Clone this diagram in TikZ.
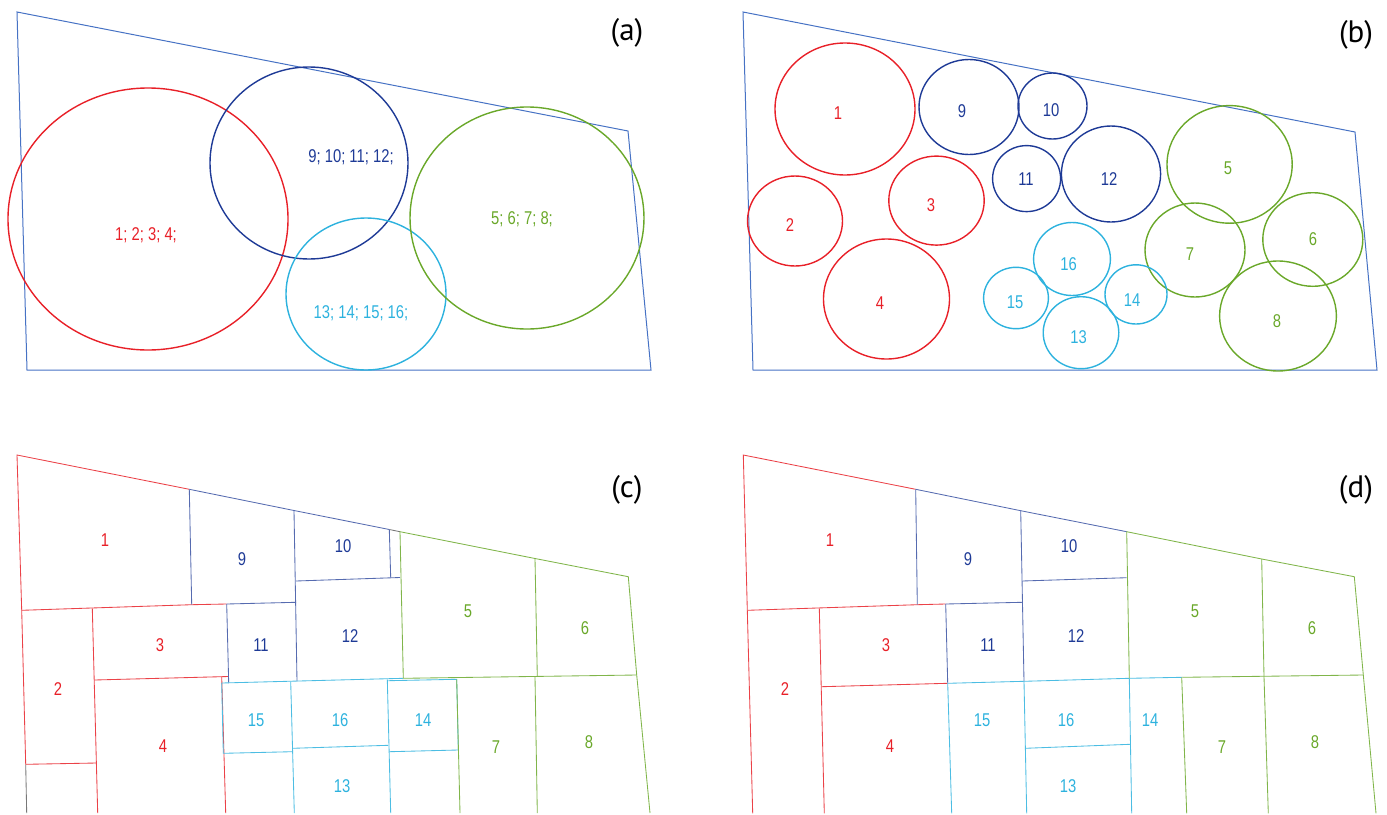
\documentclass[tikz,border=0pt]{standalone}
\usepackage{fontspec}
\newfontfamily\lbl[FakeStretch=0.8]{Liberation Sans}
\newfontfamily\ptl{PT Sans}
\definecolor{cred}{RGB}{232,32,40}
\definecolor{cblue}{RGB}{30,58,150}
\definecolor{ccyan}{RGB}{45,178,222}
\definecolor{cgreen}{RGB}{106,168,42}
\definecolor{outl}{RGB}{70,114,196}
\definecolor{cgray}{RGB}{120,120,120}
\colorlet{lred}{cred!85!white}
\colorlet{lblue}{cblue!75!white}
\colorlet{lcyan}{ccyan!85!white}
\colorlet{lgreen}{cgreen!85!white}
\tikzset{
  outline/.style={draw=outl, line width=1pt, line join=miter},
  ring/.style={line width=1.4pt},
  part/.style={line width=0.85pt},
  lab/.style={font=\lbl\fontsize{18.5}{20}\selectfont, inner sep=0pt},
  ptitle/.style={font=\ptl\fontsize{31}{34}\selectfont, inner sep=0pt}
}
\begin{document}
\begin{tikzpicture}[x=1pt,y=-1pt]
\useasboundingbox (0,0) rectangle (1387,814);

%================ (a) =================
\draw[outline] (17,12) -- (628,131) -- (651,370) -- (27,370) -- cycle;
\draw[ring, cred]   (148,219) ellipse [x radius=140, y radius=131];
\draw[ring, cblue]  (309,163) ellipse [x radius=99, y radius=96];
\draw[ring, ccyan]  (366,294) ellipse [x radius=80, y radius=76];
\draw[ring, cgreen] (527,218) ellipse [x radius=117, y radius=111];
\node[lab, text=cred]   (aR) at (146,235) {1; 2; 3; 4;};
\node[lab, text=cblue]  (aB) at (351,157) {9; 10; 11; 12;};
\node[lab, text=ccyan]  (aC) at (361,313) {13; 14; 15; 16;};
\node[lab, text=cgreen] (aG) at (522,219) {5; 6; 7; 8;};
\node[ptitle] (ta) at (627,33) {(a)};

%================ (b) =================
\draw[outline] (743,12) -- (1355,132) -- (1377,370) -- (753,370) -- cycle;
\draw[ring, cred] (845,109) ellipse [x radius=70, y radius=66];
\draw[ring, cred] (795,221) ellipse [x radius=47.5, y radius=45];
\draw[ring, cred] (936.5,200.6) ellipse [x radius=47.7, y radius=44.5];
\draw[ring, cred] (886.5,299) ellipse [x radius=63, y radius=60];
\draw[ring, cblue] (969,107) ellipse [x radius=50, y radius=47.5];
\draw[ring, cblue] (1052.5,106) ellipse [x radius=34.5, y radius=33];
\draw[ring, cblue] (1026.6,178.6) ellipse [x radius=34, y radius=33];
\draw[ring, cblue] (1111,174) ellipse [x radius=49.6, y radius=48];
\draw[ring, cgreen] (1229.6,164.4) ellipse [x radius=62.6, y radius=58.8];
\draw[ring, cgreen] (1312.8,239.5) ellipse [x radius=50, y radius=46.8];
\draw[ring, cgreen] (1195,250) ellipse [x radius=50, y radius=47];
\draw[ring, cgreen] (1278,316) ellipse [x radius=58.4, y radius=55];
\draw[ring, ccyan] (1072,259) ellipse [x radius=38.4, y radius=36.5];
\draw[ring, ccyan] (1016,298) ellipse [x radius=32.4, y radius=30.7];
\draw[ring, ccyan] (1136,294.4) ellipse [x radius=31, y radius=29.6];
\draw[ring, ccyan] (1081,332.7) ellipse [x radius=37.8, y radius=36];
\node[lab, text=cred] (b1) at (838,113) {1};
\node[lab, text=cred] (b2) at (790,225) {2};
\node[lab, text=cred] (b3) at (931,205) {3};
\node[lab, text=cred] (b4) at (880,303) {4};
\node[lab, text=cblue] (b9) at (962,111) {9};
\node[lab, text=cblue] (b10) at (1051,110.5) {10};
\node[lab, text=cblue] (b11) at (1026,179.5) {11};
\node[lab, text=cblue] (b12) at (1109,179.5) {12};
\node[lab, text=cgreen] (b5) at (1228,168.5) {5};
\node[lab, text=cgreen] (b6) at (1313,239) {6};
\node[lab, text=cgreen] (b7) at (1190,254) {7};
\node[lab, text=cgreen] (b8) at (1277,321.5) {8};
\node[lab, text=ccyan] (b16) at (1068.5,264) {16};
\node[lab, text=ccyan] (b15) at (1015,302) {15};
\node[lab, text=ccyan] (b14) at (1132,300.5) {14};
\node[lab, text=ccyan] (b13) at (1078.5,337) {13};
\node[ptitle] (tb) at (1356,35) {(b)};

%================ (c) =================
\begin{scope}[part]
\draw[cgray] (25.7,764.3) -- (26.7,813);
\draw[cgray] (389.3,529.5) -- (400,531.7);
% red
\draw[lred] (189.3,489.3) -- (17,455) -- (21.7,610.3) -- (25.7,764.3);
\draw[lred] (21.7,610.3) -- (191.7,604.7) -- (226.7,604);
\draw[lred] (92.3,608.3) -- (97.7,813);
\draw[lred] (25.7,764.3) -- (96.7,763);
\draw[lred] (94.3,680) -- (228.7,676.5);
\draw[lred] (221.7,676.7) -- (225.7,813);
% blue
\draw[lblue] (189.3,489.3) -- (294,510.5) -- (389.3,529.5);
\draw[lblue] (189.3,489.3) -- (191.7,604.7);
\draw[lblue] (226.7,604) -- (296,602.3);
\draw[lblue] (294,510.5) -- (297,681.3);
\draw[lblue] (296,581) -- (400,577.5);
\draw[lblue] (389.3,529.5) -- (390.7,577.7);
\draw[lblue] (226.7,604) -- (228.7,683);
% cyan
\draw[lcyan] (221.7,683) -- (403.3,678.3);
\draw[lcyan] (221.7,683) -- (223.3,753.3) -- (292.3,751.7);
\draw[lcyan] (290.7,681.7) -- (294.3,813);
\draw[lcyan] (292.3,748.3) -- (388.3,745.3);
\draw[lcyan] (387.3,679.3) -- (390.7,813);
\draw[lcyan] (388.3,680.7) -- (456.7,679.3) -- (458.3,750) -- (389.3,751.7);
% green
\draw[lgreen] (400,531.7) -- (535,558.5) -- (628.3,576.7) -- (636.7,675) -- (650,813);
\draw[lgreen] (400,531.7) -- (403.3,678.3) -- (636.7,675);
\draw[lgreen] (535,558.5) -- (537.3,676.7);
\draw[lgreen] (535,676.7) -- (537.3,813);
\draw[lgreen] (456.7,679.3) -- (460,813);
\end{scope}
\node[lab, text=cred] (c1) at (105,540) {1};
\node[lab, text=cred] (c2) at (58,689) {2};
\node[lab, text=cred] (c3) at (160,645) {3};
\node[lab, text=cred] (c4) at (163,746) {4};
\node[lab, text=cblue] (c9) at (242,559) {9};
\node[lab, text=cblue] (c10) at (343,546) {10};
\node[lab, text=cblue] (c11) at (261,645) {11};
\node[lab, text=cblue] (c12) at (350,636) {12};
\node[lab, text=cgreen] (c5) at (468,611) {5};
\node[lab, text=cgreen] (c6) at (585,628) {6};
\node[lab, text=cgreen] (c7) at (496,747) {7};
\node[lab, text=cgreen] (c8) at (589,742) {8};
\node[lab, text=ccyan] (c15) at (256,720) {15};
\node[lab, text=ccyan] (c16) at (340,720) {16};
\node[lab, text=ccyan] (c14) at (423,720) {14};
\node[lab, text=ccyan] (c13) at (342,786) {13};
\node[ptitle] (tc) at (627,490) {(c)};

%================ (d) =================
\begin{scope}[part]
% red
\draw[lred] (915.7,489.3) -- (743.3,455) -- (747.3,610.3) -- (752.7,813.3);
\draw[lred] (747.3,610.3) -- (917.3,604.7) -- (945.7,604);
\draw[lred] (819.3,608.3) -- (824.3,813.3);
\draw[lred] (821.7,686.7) -- (947.7,683.3);
% blue
\draw[lblue] (915.7,489.3) -- (1020.7,510.7) -- (1126.7,531.7);
\draw[lblue] (915.7,489.3) -- (917.3,604.7);
\draw[lblue] (945.7,604) -- (1022.3,602.3);
\draw[lblue] (1020.7,510.7) -- (1024,681.3);
\draw[lblue] (1022.3,581) -- (1126.7,577.7);
\draw[lblue] (945.7,604) -- (947.7,683.3);
% cyan
\draw[lcyan] (947.7,683.3) -- (1024,681.3) -- (1129.3,678.3) -- (1182.3,677.3);
\draw[lcyan] (947.7,683.3) -- (951.7,813.3);
\draw[lcyan] (1024,681.3) -- (1026.7,813.3);
\draw[lcyan] (1025,748.3) -- (1130,744.3);
\draw[lcyan] (1129.3,678.3) -- (1131.7,813.3);
% green
\draw[lgreen] (1126.7,531.7) -- (1261.7,559) -- (1354.3,576.7) -- (1363.3,675) -- (1376,813.3);
\draw[lgreen] (1126.7,531.7) -- (1129.3,678.3);
\draw[lgreen] (1182.3,677.3) -- (1363.3,675);
\draw[lgreen] (1261.7,559) -- (1264,676.7) -- (1268.3,813.3);
\draw[lgreen] (1181.7,677.3) -- (1186.7,813.3);
\end{scope}
\node[lab, text=cred] (d1) at (830,540) {1};
\node[lab, text=cred] (d2) at (785,689) {2};
\node[lab, text=cred] (d3) at (886,645) {3};
\node[lab, text=cred] (d4) at (890,746) {4};
\node[lab, text=cblue] (d9) at (968,559) {9};
\node[lab, text=cblue] (d10) at (1069,546) {10};
\node[lab, text=cblue] (d11) at (988,645) {11};
\node[lab, text=cblue] (d12) at (1076,636) {12};
\node[lab, text=cgreen] (d5) at (1195,611) {5};
\node[lab, text=cgreen] (d6) at (1312,628) {6};
\node[lab, text=cgreen] (d7) at (1222,747) {7};
\node[lab, text=cgreen] (d8) at (1315,742) {8};
\node[lab, text=ccyan] (d15) at (982,720) {15};
\node[lab, text=ccyan] (d16) at (1066,720) {16};
\node[lab, text=ccyan] (d14) at (1150,720) {14};
\node[lab, text=ccyan] (d13) at (1068,786) {13};
\node[ptitle] (td) at (1356,490) {(d)};
\end{tikzpicture}
\end{document}
